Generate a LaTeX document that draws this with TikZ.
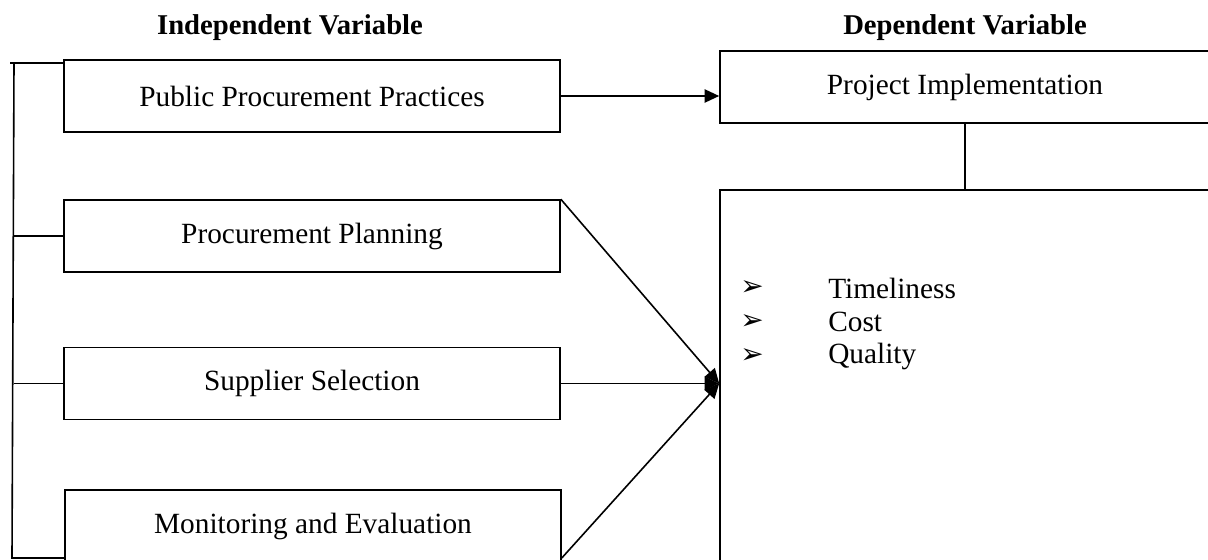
\documentclass[tikz,border=0pt]{standalone}
\usepackage{fontspec}
\setmainfont{Liberation Serif}
\newfontfamily\dingfont{DejaVu Sans}
\usetikzlibrary{arrows.meta}

\tikzset{
  varbox/.style={draw, line width=1.2pt, minimum width=372pt, minimum height=54pt, inner sep=0pt, font=\fontsize{22}{26}\selectfont},
  depbox/.style={draw, line width=1.2pt, minimum width=367.5pt, inner sep=0pt, font=\fontsize{22}{26}\selectfont},
  heading/.style={inner sep=0pt, font=\bfseries\fontsize{21.5}{26}\selectfont},
  itemtext/.style={anchor=west, inner sep=0pt, font=\fontsize{22}{26}\selectfont},
  arr/.style={line width=1.2pt, -{Triangle[length=11pt,width=10pt]}},
  plain/.style={line width=1.2pt}
}

\begin{document}
\begin{tikzpicture}[x=0.75pt,y=0.75pt,yscale=-1,xscale=1]
  \useasboundingbox (0,0) rectangle (1208,560);
  \clip (0,0) rectangle (1208,560);

  % Headings
  \node[heading] (indep) at (290,28) {Independent Variable};
  \node[heading] (dep) at (965,28) {Dependent Variable};

  % Independent variables
  \node[varbox] (ppp) at (312,96) {Public Procurement Practices};
  \node[varbox] (plan) at (312,236) {Procurement Planning};
  \node[varbox] (supp) at (312,383.5) {Supplier Selection};
  \node[varbox] (mon) at (313,526) {Monitoring and Evaluation};

  % Dependent variable
  \node[depbox, minimum height=54pt] (proj) at (965,87) {Project Implementation};
  \node[depbox, minimum height=285pt] (ind) at (965,380) {};

  % Indicators
  \foreach \txt [count=\i] in {Timeliness,Cost,Quality} {
    \node[inner sep=0pt, font=\dingfont\fontsize{21}{24}\selectfont] (bul\i) at (752,254+34*\i) {➢};
    \node[itemtext] (ind\i) at (828,254+34*\i) {\txt};
  }

  % Left bracket
  \coordinate (brtop) at (14,63);
  \coordinate (brbot) at (12,558);
  \draw[plain] (10,63) -- (ppp.west |- brtop);
  \draw[plain] (brtop) -- (brbot) -- (mon.west |- brbot);
  \draw[plain] (brtop |- plan.west) -- (plan.west);
  \draw[plain] (brtop |- supp.west) -- (supp.west);

  % Connectors
  \coordinate (meet) at (ind.west |- supp.east);
  \draw[arr] (ppp.east) -- (proj.west |- ppp.east);
  \draw[plain] (proj.south) -- (ind.north);
  \draw[arr] (plan.north east) -- (meet);
  \draw[arr] (supp.east) -- (meet);
  \draw[arr] (mon.east |- brbot) -- (meet);

\end{tikzpicture}
\end{document}
